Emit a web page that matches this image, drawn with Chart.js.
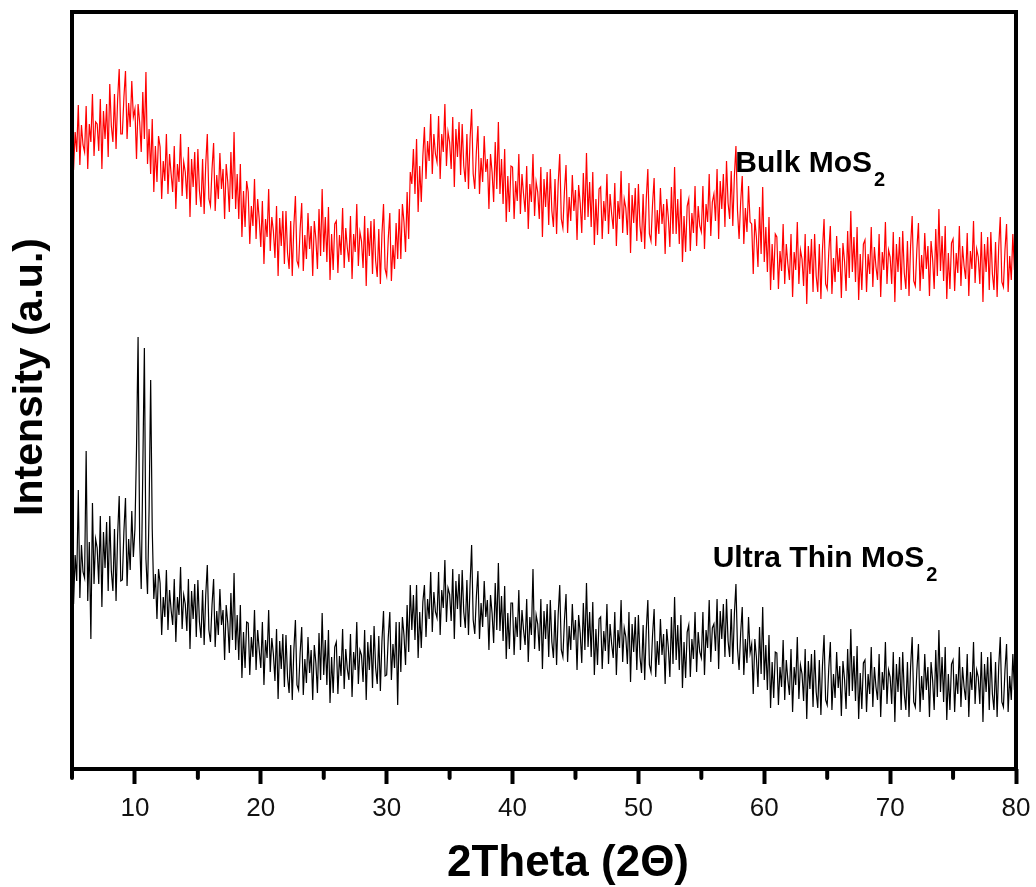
<!DOCTYPE html>
<html lang="en">
<head>
<meta charset="UTF-8">
<title>XRD MoS2</title>
<script src="https://cdn.jsdelivr.net/npm/chart.js"></script>
<style>
  html, body { margin: 0; padding: 0; background: #fff; }
  #wrap { width: 1036px; height: 887px; }
</style>
</head>
<body>
<div id="wrap"><canvas id="xrd"></canvas></div>
<script>
// 2Theta grid of the scan (degrees)
const twoThetaStart = 5;
const twoThetaStep = 0.125;

// Bulk MoS2, intensity (a.u.), one row per degree from 5 to 80
const bulkMoS2 = [
  651, 599, 637, 617, 664, 604, 644, 624,
  617, 663, 600, 645, 627, 675, 613, 647,
  645, 618, 670, 600, 658, 630, 665, 612,
  685, 643, 627, 675, 620, 670, 700, 635,
  635, 672, 698, 630, 666, 642, 688, 652,
  660, 610, 665, 647, 617, 677, 630, 697,
  605, 640, 595, 650, 577, 623, 587, 633,
  622, 570, 608, 588, 635, 575, 615, 595,
  577, 623, 560, 605, 587, 635, 573, 607,
  597, 570, 622, 552, 610, 582, 617, 564,
  620, 578, 562, 610, 555, 605, 635, 570,
  563, 600, 626, 558, 594, 570, 616, 580,
  600, 550, 605, 587, 557, 617, 570, 637,
  560, 595, 550, 605, 532, 578, 542, 588,
  577, 525, 563, 543, 590, 530, 570, 550,
  522, 568, 505, 550, 532, 580, 518, 552,
  538, 511, 563, 493, 551, 523, 558, 505,
  558, 516, 500, 548, 493, 543, 573, 508,
  503, 540, 566, 498, 534, 510, 556, 520,
  543, 493, 548, 530, 500, 560, 513, 580,
  517, 552, 507, 562, 489, 535, 499, 545,
  548, 496, 534, 514, 561, 501, 541, 521,
  507, 553, 490, 535, 517, 565, 503, 537,
  528, 501, 553, 483, 541, 513, 548, 495,
  550, 508, 492, 540, 485, 535, 565, 500,
  493, 530, 556, 488, 524, 500, 546, 510,
  560, 510, 565, 547, 517, 577, 530, 597,
  585, 620, 575, 630, 557, 603, 567, 613,
  642, 590, 628, 608, 655, 595, 635, 615,
  607, 653, 590, 635, 617, 665, 603, 637,
  627, 600, 652, 582, 640, 612, 647, 594,
  645, 603, 587, 635, 580, 630, 660, 595,
  580, 617, 643, 575, 611, 587, 633, 597,
  610, 560, 615, 597, 567, 627, 580, 647,
  575, 610, 565, 620, 547, 593, 557, 603,
  602, 550, 588, 568, 615, 555, 595, 575,
  557, 603, 540, 585, 567, 615, 553, 587,
  577, 550, 602, 532, 590, 562, 597, 544,
  600, 558, 542, 590, 535, 585, 615, 550,
  541, 578, 604, 536, 572, 548, 594, 558,
  579, 529, 584, 566, 536, 596, 549, 616,
  552, 587, 542, 597, 524, 570, 534, 580,
  582, 530, 568, 548, 595, 535, 575, 555,
  540, 586, 523, 568, 550, 598, 536, 570,
  561, 534, 586, 516, 574, 546, 581, 528,
  585, 543, 527, 575, 520, 570, 600, 535,
  528, 565, 591, 523, 559, 535, 581, 545,
  565, 515, 570, 552, 522, 582, 535, 602,
  535, 570, 525, 580, 507, 553, 517, 563,
  570, 518, 556, 536, 583, 523, 563, 543,
  537, 583, 520, 565, 547, 595, 533, 567,
  575, 548, 600, 530, 588, 560, 595, 542,
  608, 566, 550, 598, 543, 593, 623, 558,
  530, 567, 593, 525, 561, 537, 583, 547,
  545, 495, 550, 532, 502, 562, 515, 582,
  507, 542, 497, 552, 479, 525, 489, 535,
  532, 480, 518, 498, 545, 485, 525, 505,
  489, 535, 472, 517, 499, 547, 485, 519,
  510, 483, 535, 465, 523, 495, 530, 477,
  535, 493, 477, 525, 470, 520, 550, 485,
  480, 517, 543, 475, 511, 487, 533, 497,
  521, 471, 526, 508, 478, 538, 491, 558,
  497, 532, 487, 542, 469, 515, 479, 525,
  529, 477, 515, 495, 542, 482, 522, 502,
  489, 535, 472, 517, 499, 547, 485, 519,
  512, 485, 537, 467, 525, 497, 532, 479,
  538, 496, 480, 528, 473, 523, 553, 488,
  483, 520, 546, 478, 514, 490, 536, 500,
  523, 473, 528, 510, 480, 540, 493, 560,
  498, 533, 488, 543, 470, 516, 480, 526,
  530, 478, 516, 496, 543, 483, 523, 503,
  490, 536, 473, 518, 500, 548, 486, 520,
  512, 485, 537, 467, 525, 497, 532, 479,
  537, 495, 479, 527, 472, 522, 552, 487,
  482, 519, 545, 477, 513, 489, 535, 499,
  510
];

// Ultra thin MoS2, intensity (a.u.), same grid
const ultraThinMoS2 = [
  233, 165, 214, 188, 279, 171, 224, 197,
  191, 318, 168, 227, 130, 266, 185, 230,
  221, 185, 253, 162, 237, 201, 247, 178,
  253, 198, 178, 240, 168, 234, 273, 188,
  189, 238, 271, 183, 230, 199, 258, 212,
  240, 320, 432, 230, 180, 300, 421, 210,
  175, 260, 389, 240, 170, 195, 150, 200,
  186, 134, 172, 152, 199, 139, 179, 159,
  144, 190, 127, 172, 154, 202, 140, 174,
  165, 138, 190, 120, 178, 150, 185, 132,
  189, 147, 131, 179, 124, 174, 204, 139,
  127, 164, 190, 122, 158, 134, 180, 144,
  159, 109, 164, 146, 116, 176, 129, 196,
  119, 154, 109, 164,  91, 137, 101, 147,
  146,  94, 132, 112, 159,  99, 139, 119,
  101, 147,  84, 129, 111, 159,  97, 131,
  115,  88, 140,  70, 128, 100, 135,  82,
  134,  92,  76, 124,  69, 119, 149,  84,
   79, 116, 142,  74, 110,  86, 132,  96,
  119,  69, 124, 106,  76, 136,  89, 156,
   94, 129,  84, 139,  66, 112,  76, 122,
  127,  75, 113,  93, 140,  80, 120, 100,
   89, 135,  72, 117,  99, 147,  85, 119,
  114,  87, 139,  69, 127,  99, 134,  81,
  143, 101,  85, 133,  78, 128, 158,  93,
   94, 131, 157,  89, 125, 101, 147,  64,
  147,  97, 152, 134, 104, 164, 117, 184,
  139, 174, 129, 184, 111, 157, 121, 167,
  184, 132, 170, 150, 197, 137, 177, 157,
  151, 197, 134, 179, 161, 209, 147, 181,
  175, 148, 200, 130, 188, 160, 195, 142,
  199, 157, 141, 189, 134, 184, 224, 149,
  135, 172, 198, 130, 166, 142, 188, 152,
  169, 119, 174, 156, 126, 186, 139, 206,
  138, 173, 128, 183, 110, 156, 120, 166,
  166, 114, 152, 132, 179, 119, 159, 139,
  124, 170, 107, 152, 134, 200, 120, 154,
  145, 118, 170, 100, 158, 130, 165, 112,
  169, 127, 111, 159, 104, 154, 184, 119,
  112, 149, 175, 107, 143, 119, 165, 129,
  149,  99, 154, 136, 106, 166, 119, 186,
  122, 157, 112, 167,  94, 140, 104, 150,
  152, 100, 138, 118, 165, 105, 145, 125,
  111, 157,  94, 139, 121, 169, 107, 141,
  132, 105, 157,  87, 145, 117, 152,  99,
  154, 112,  96, 144,  89, 139, 169, 104,
   97, 134, 160,  92, 128, 104, 150, 114,
  135,  85, 140, 122,  92, 152, 105, 172,
  109, 144,  99, 154,  81, 127,  91, 137,
  144,  92, 130, 110, 157,  97, 137, 117,
  111, 157,  94, 139, 121, 169, 107, 141,
  145, 118, 170, 100, 158, 130, 165, 112,
  170, 128, 112, 160, 105, 155, 185, 120,
   99, 136, 162,  94, 130, 106, 152, 116,
  125,  75, 130, 112,  82, 142,  95, 162,
   89, 124,  79, 134,  61, 107,  71, 117,
  116,  64, 102,  82, 129,  69, 109,  89,
   74, 120,  57, 102,  84, 132,  70, 104,
   95,  68, 120,  50, 108,  80, 115,  62,
  119,  77,  61, 109,  54, 104, 134,  69,
   64, 101, 127,  59,  95,  71, 117,  81,
  103,  53, 108,  90,  60, 120,  73, 140,
   78, 113,  68, 123,  50,  96,  60, 106,
  109,  57,  95,  75, 122,  62, 102,  82,
   69, 115,  52,  97,  79, 127,  65,  99,
   92,  65, 117,  47, 105,  77, 112,  59,
  117,  75,  59, 107,  52, 102, 132,  67,
   62,  99, 125,  57,  93,  69, 115,  79,
  102,  52, 107,  89,  59, 119,  72, 139,
   77, 112,  67, 122,  49,  95,  59, 105,
  109,  57,  95,  75, 122,  62, 102,  82,
   69, 115,  52,  97,  79, 127,  65,  99,
   92,  65, 117,  47, 105,  77, 112,  59,
  117,  75,  59, 107,  52, 102, 132,  67,
   62,  99, 125,  57,  93,  69, 115,  79,
   90
];

const majorTicks = [10, 20, 30, 40, 50, 60, 70, 80];
const minorTicks = [5, 15, 25, 35, 45, 55, 65, 75];

// sample labels, anchored at (2Theta, intensity) of the text's left baseline
const labels = [
  { text: 'Bulk MoS', sub: '2', at: [57.7, 597] },
  { text: 'Ultra Thin MoS', sub: '2', at: [55.9, 202] }
];

const xTitle = '2Theta (2Θ)';
const yTitle = 'Intensity (a.u.)';

const FONT = '"Liberation Sans", Arial, Helvetica, sans-serif';

function toPoints(values) {
  return values.map((v, i) => ({ x: twoThetaStart + i * twoThetaStep, y: v }));
}

const frameAndNotes = {
  id: 'frameAndNotes',
  afterDraw(chart) {
    const { ctx, chartArea: a, scales: { x, y } } = chart;
    ctx.save();
    ctx.strokeStyle = '#000';
    ctx.lineWidth = 4;
    ctx.strokeRect(a.left, a.top, a.right - a.left, a.bottom - a.top);

    ctx.lineCap = 'round';
    minorTicks.forEach(v => {
      const px = x.getPixelForValue(v);
      ctx.beginPath();
      ctx.moveTo(px, a.bottom);
      ctx.lineTo(px, a.bottom + 9);
      ctx.stroke();
    });

    ctx.fillStyle = '#000';
    ctx.textBaseline = 'alphabetic';
    ctx.textAlign = 'left';
    labels.forEach(l => {
      const px = x.getPixelForValue(l.at[0]);
      const py = y.getPixelForValue(l.at[1]);
      ctx.font = 'bold 30px ' + FONT;
      ctx.fillText(l.text, px, py);
      const w = ctx.measureText(l.text).width;
      ctx.font = 'bold 20px ' + FONT;
      ctx.fillText(l.sub, px + w + 2, py + 14);
    });

    // axis titles
    ctx.font = 'bold 44px ' + FONT;
    ctx.textAlign = 'center';
    ctx.fillText(xTitle, 568, 876);
    ctx.translate(42, 377);
    ctx.rotate(-Math.PI / 2);
    ctx.font = 'bold 41px ' + FONT;
    ctx.fillText(yTitle, 0, 0);
    ctx.restore();
  }
};

new Chart(document.getElementById('xrd'), {
  type: 'line',
  data: {
    datasets: [
      {
        label: 'Bulk MoS2',
        data: toPoints(bulkMoS2),
        borderColor: '#ff0000',
        borderWidth: 1.2,
        pointRadius: 0,
        tension: 0
      },
      {
        label: 'Ultra Thin MoS2',
        data: toPoints(ultraThinMoS2),
        borderColor: '#000000',
        borderWidth: 1.2,
        pointRadius: 0,
        tension: 0
      }
    ]
  },
  options: {
    responsive: true,
    maintainAspectRatio: false,
    animation: false,
    layout: { padding: { left: 0, right: 20, top: 12, bottom: 0 } },
    plugins: {
      legend: { display: false },
      tooltip: { enabled: false }
    },
    scales: {
      x: {
        type: 'linear',
        min: 5,
        max: 80,
        afterBuildTicks: s => { s.ticks = majorTicks.map(v => ({ value: v })); },
        afterFit: s => {
          s.height = 118;
          s.paddingLeft = 0;
          s.paddingRight = 0;
        },
        border: { display: false },
        grid: {
          drawOnChartArea: false,
          drawTicks: true,
          tickLength: 15,
          tickWidth: 4,
          tickColor: '#000'
        },
        ticks: {
          color: '#111',
          padding: 9,
          maxRotation: 0,
          font: { family: FONT, size: 26 }
        },
        title: { display: false }
      },
      y: {
        min: 0,
        max: 757,
        afterFit: s => { s.width = 72; },
        border: { display: false },
        grid: { display: false },
        ticks: { display: false },
        title: { display: false }
      }
    }
  },
  plugins: [frameAndNotes]
});
</script>
</body>
</html>
